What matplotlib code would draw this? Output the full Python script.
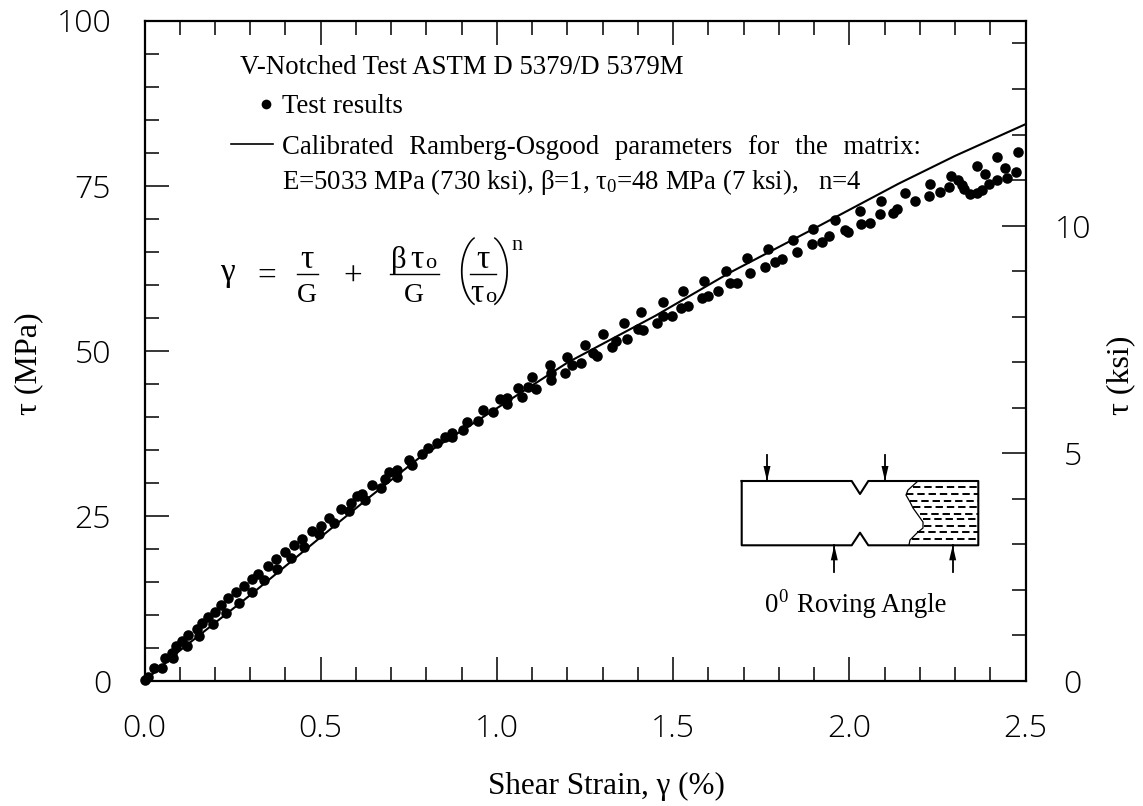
import matplotlib
matplotlib.use("Agg")
import matplotlib.pyplot as plt
from matplotlib.ticker import MultipleLocator
from matplotlib.transforms import Affine2D

# ---------- data ----------
test_gamma = [0.00,0.010,0.027,0.050,0.058,0.078,0.081,0.089,0.106,0.121,0.123,0.149,0.155,0.163,0.180,
 0.194,0.200,0.217,0.231,0.237,0.260,0.268,0.282,0.305,0.305,0.322,0.339,0.350,0.373,0.376,0.399,0.416,
 0.424,0.447,0.453,0.475,0.495,0.501,0.523,0.538,0.557,0.580,0.586,0.603,0.617,0.626,0.645,0.671,0.682,
 0.694,0.716,0.716,0.750,0.759,0.787,0.804,0.830,0.853,0.872,0.872,0.904,0.915,0.946,0.960,0.989,1.009,
 1.028,1.028,1.060,1.071,1.088,1.099,1.111,1.150,1.153,1.153,1.193,1.199,1.213,1.238,1.250,1.272,1.284,
 1.301,1.326,1.338,1.360,1.369,1.400,1.414,1.409,1.454,1.471,1.471,1.496,1.522,1.528,1.542,1.582,1.587,
 1.599,1.627,1.650,1.661,1.681,1.709,1.718,1.760,1.769,1.789,1.809,1.840,1.851,1.894,1.897,1.922,1.942,
 1.959,1.987,1.996,2.030,2.033,2.058,2.087,2.089,2.123,2.135,2.157,2.186,2.226,2.229,2.257,2.282,2.288,
 2.308,2.319,2.325,2.342,2.362,2.362,2.376,2.384,2.396,2.418,2.418,2.441,2.447,2.472,2.478]
test_tau = [0.2,0.6,2.0,2.0,3.5,4.2,3.5,5.3,6.1,5.3,7.0,7.9,6.8,8.8,9.7,
 8.6,10.5,11.5,10.3,12.6,13.5,11.8,14.4,13.5,15.5,16.2,15.3,17.4,18.5,17.0,19.5,18.6,
 20.6,21.5,20.3,22.7,22.3,23.5,24.7,23.9,26.1,25.8,27.0,28.0,28.3,27.4,29.7,29.2,30.6,
 31.7,32.0,30.9,33.5,32.7,34.4,35.3,36.1,37.0,37.0,37.6,38.0,39.2,39.4,41.1,40.8,42.7,
 42.9,42.0,44.4,43.0,44.5,46.1,44.2,47.9,46.7,45.5,46.7,49.1,47.9,48.2,50.9,49.7,49.2,
 52.6,50.6,51.5,54.2,51.8,53.3,53.2,55.9,54.2,55.3,57.4,55.3,56.5,59.1,56.7,58.0,60.6,
 58.3,59.1,62.1,60.3,60.3,64.1,61.7,62.7,65.4,63.5,63.9,66.8,65.0,66.2,68.5,66.5,67.3,
 69.8,68.3,68.0,71.2,69.2,69.4,70.7,72.6,70.9,71.5,73.9,72.6,73.5,75.3,74.1,74.8,76.5,
 75.9,75.1,74.5,73.8,73.9,78.0,74.4,76.8,75.3,75.9,79.4,77.6,76.2,77.0,80.1]
fit_gamma = [0,0.1,0.3,0.53,0.64,0.78,1.0,1.2,1.45,1.66,1.9,2.14,2.3,2.5]
fit_tau = [0,4.6,13.0,23.1,27.9,33.8,41.3,48.2,55.3,61.8,68.5,75.3,79.5,84.3]
x_ticks = [0.0,0.5,1.0,1.5,2.0,2.5]
y_ticks = [0,25,50,75,100]
ksi_ticks = [0,5,10]

W, H = 1143, 806
SERIF = "Liberation Serif"
plt.rcParams.update({"font.family": SERIF, "mathtext.fontset": "custom",
                     "mathtext.rm": SERIF, "mathtext.it": SERIF, "mathtext.default": "regular"})
fig = plt.figure(figsize=(W/100, H/100), dpi=100, facecolor="white")
L, R, T, B = 144.5, 1025.5, 20.5, 681
ax = fig.add_axes([L/W, 1-B/H, (R-L)/W, (B-T)/H])
ax.set_xlim(0, 2.5); ax.set_ylim(0, 100)
ax.plot(fit_gamma, fit_tau, color="black", lw=1.5, zorder=2)
ax.plot(test_gamma, test_tau, "o", color="black", ms=7.6, mew=0, zorder=3, clip_on=False)

TF = {"family": "Open Sans", "fontweight": "light", "fontsize": 23}
ax.set_xticks(x_ticks, [f"{v:.1f}" for v in x_ticks], **TF)
ax.set_yticks(y_ticks, [str(v) for v in y_ticks], **TF)
ax.xaxis.set_minor_locator(MultipleLocator(0.1))
ax.yaxis.set_minor_locator(MultipleLocator(5))
ax.tick_params(which="major", direction="in", length=17.5, width=1.1, top=True, right=False)
ax.tick_params(which="minor", direction="in", length=10, width=1.1, top=True, right=False)
ax.tick_params(axis="x", which="major", pad=23)
ax.tick_params(axis="y", which="major", pad=24)
for s in ax.spines.values():
    s.set_linewidth(1.6)

ax2 = ax.twinx()
ax2.set_ylim(0, 100/6.895)
ax2.set_yticks(ksi_ticks, [str(v) for v in ksi_ticks], ha="center", **TF)
ax2.yaxis.set_minor_locator(MultipleLocator(1))
ax2.tick_params(which="major", direction="in", length=17.5, width=1.1, pad=34)
ax2.tick_params(which="minor", direction="in", length=10, width=1.1)
for s in ax2.spines.values():
    s.set_visible(False)

px = Affine2D().scale(1/W, -1/H).translate(0, 1) + fig.transFigure
def txt(x, y, s, size=19.3, **kw):
    kw.setdefault("va", "baseline")
    return fig.text(x, y, s, transform=px, fontsize=size, color="black", **kw)
def ln(xs, ys, lw=1.3, **kw):
    fig.add_artist(plt.Line2D(xs, ys, transform=px, color="black", lw=lw, **kw))

# axis titles
txt(606.5, 794, "Shear Strain, γ (%)", 22.4, ha="center")
txt(36, 363.5, "τ (MPa)", 23, rotation=90, ha="center", rotation_mode="anchor")
txt(1128, 375, "τ (ksi)", 23, rotation=90, ha="center", rotation_mode="anchor")

# annotation block
txt(240, 74, "V-Notched Test ASTM D 5379/D 5379M")
ln([266], [104], marker="o", ms=7, mew=0)
txt(282, 113, "Test results")
ln([231, 273], [144, 144], lw=1.2)
txt(282, 154, "Calibrated\u200a  Ramberg-Osgood\u200a  parameters\u200a  for\u200a  the\u200a  matrix:")
txt(282, 189, "E=5033 MPa (730 ksi), β=1, τ$_{0}$=48 MPa (7 ksi),   n=4")

# equation
txt(220, 281, "γ", 24)
txt(267, 285, "=", 24, ha="center")
txt(307, 268, "τ", 24, ha="center")
ln([297, 318], [274, 274], lw=1)
txt(307, 302, "G", 20, ha="center")
txt(353, 286, "+", 24, ha="center")
txt(391, 268, "β", 22)
txt(410, 268, "τ", 24)
txt(425, 268, "o", 16)
ln([390, 439], [274, 274], lw=1)
txt(414, 302, "G", 20, ha="center")
txt(465, 290, "(", 48, ha="center", family="Roboto", fontweight="light")
txt(502, 290, ")", 48, ha="center", family="Roboto", fontweight="light")
txt(483, 268, "τ", 24, ha="center")
ln([470, 496], [274, 274], lw=1)
txt(470, 302, "τ", 24)
txt(485, 302, "o", 16)
txt(511, 250, "n", 16)

# specimen sketch
ln([741.7, 851.7, 860, 868.3, 978.3, 978.3, 868.3, 860, 851.7, 741.7, 741.7],
   [481, 481, 494, 481, 481, 545.3, 545.3, 532.7, 545.3, 545.3, 481], lw=1.5)
cx = [918, 908, 906, 910, 913, 918, 923, 923, 917, 910, 909]
cy = [481, 490, 495, 502, 508, 515, 522, 528, 533, 540, 545]
ln(cx, cy, lw=0.9)
dash_y = [487.3, 494, 500.7, 507.3, 514, 519.3, 525.7, 532, 538.7]
dash_x = [913, 906, 910, 913, 920, 923, 924, 917, 912]
for xs, ys in zip(dash_x, dash_y):
    ln([xs, 978], [ys, ys], lw=1.4, ls=(0, (3.8, 2)))
for ax_x, y0, y1 in [(767, 455, 481), (885, 455, 481), (834.3, 571.7, 545.3), (952.7, 571.7, 545.3)]:
    ln([ax_x, ax_x], [y0, y1], lw=1.3)
    d = 1 if y1 > y0 else -1
    fig.add_artist(plt.Polygon([(ax_x-3.5, y1-15*d), (ax_x+3.5, y1-15*d), (ax_x, y1)], closed=True,
                               transform=px, color="black", lw=0))
txt(765, 612, "0", 19.3)
txt(778, 602, "0", 13.5)
txt(797, 612, "Roving Angle", 19.3)

fig.savefig("out.png", dpi=100, facecolor="white")
